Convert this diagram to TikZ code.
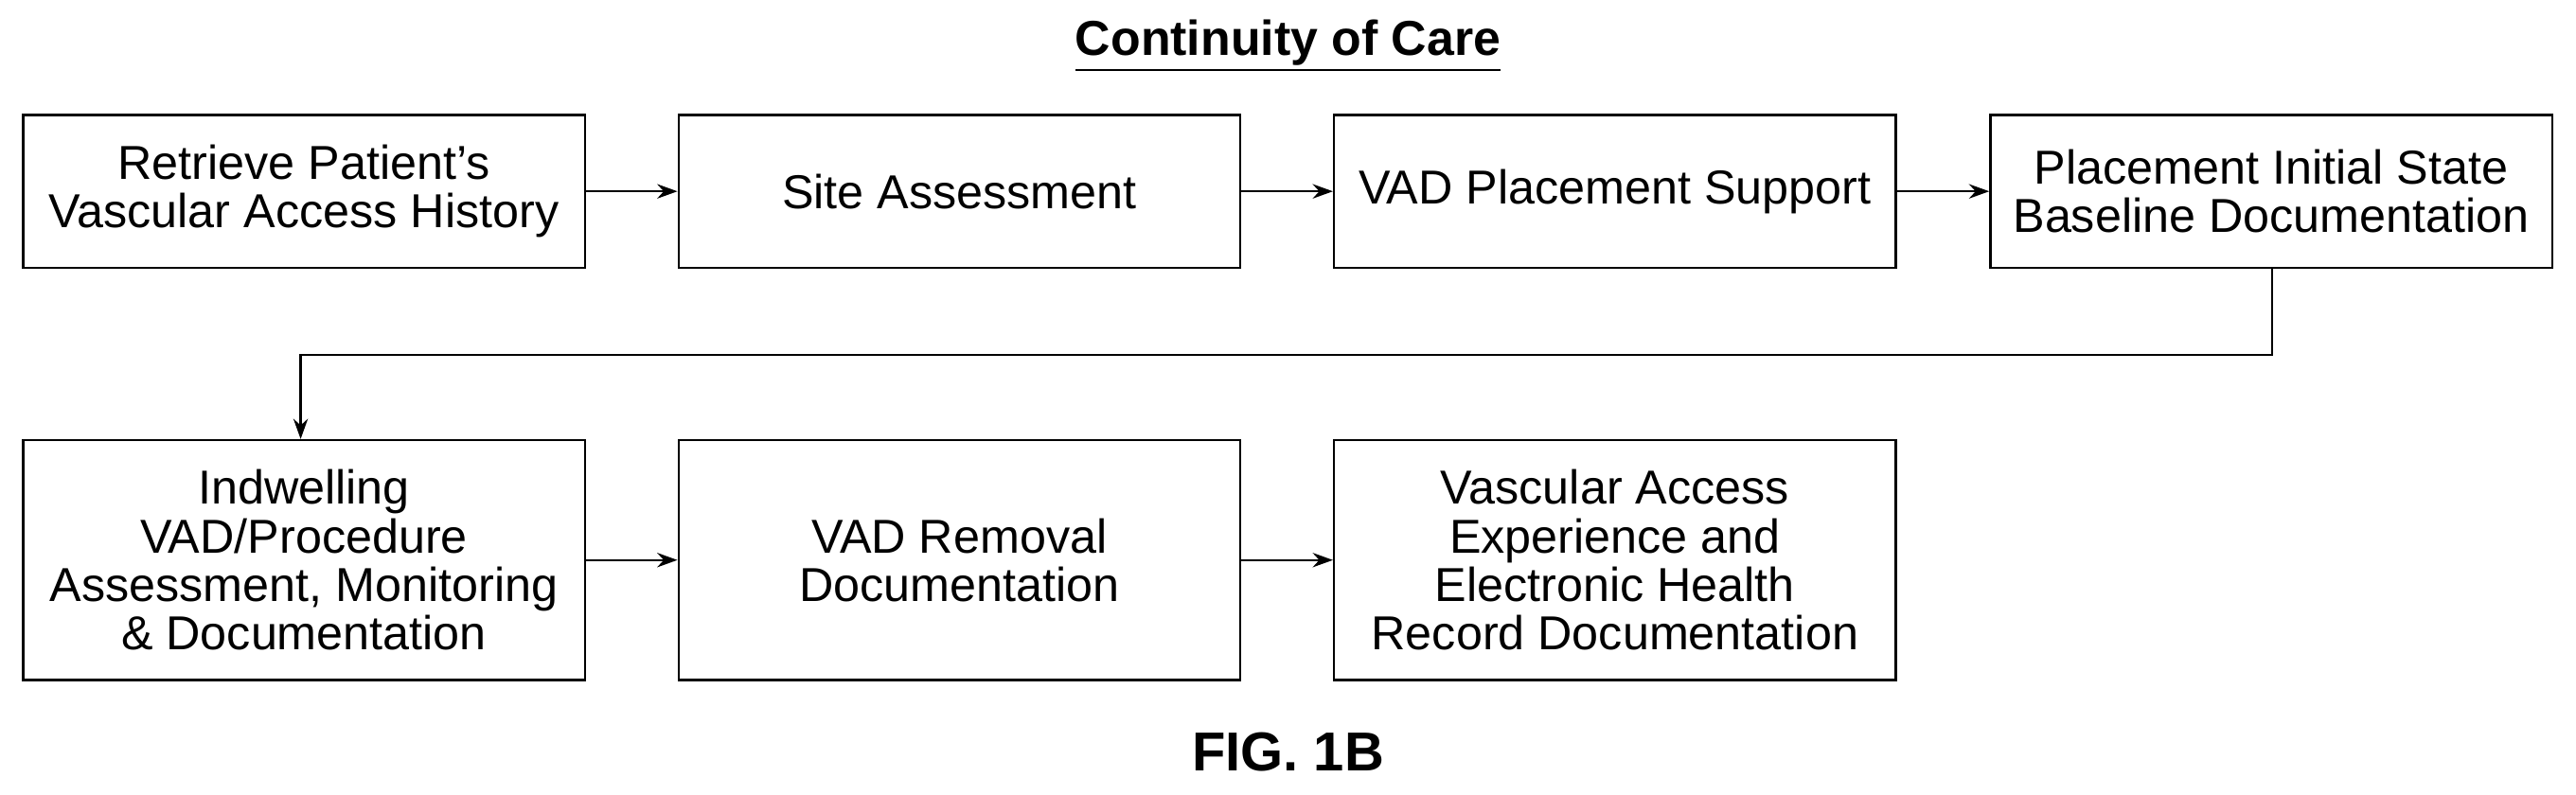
\documentclass[tikz,border=0pt]{standalone}
\usepackage{fontspec}
\setmainfont{Liberation Sans}
\usetikzlibrary{positioning,arrows.meta}
\begin{document}
\begin{tikzpicture}
		[x=0.02cm,y=-0.02cm,every node/.style={font=\fontsize{16.5}{16.8}\selectfont},
		box/.style={draw, line width=0.8pt, minimum width=6.84cm, align=center, inner sep=0pt},
		arr/.style={-{Stealth[length=7pt,width=5pt]}, line width=0.8pt}]
		\useasboundingbox (0,0) rectangle (1568,484);
		\node[font=\fontsize{17}{19}\selectfont\bfseries] (title) at (784,28) {\underline{Continuity of Care}};
		\node[box, minimum height=1.86cm] (b1) at (185,116.5) {Retrieve Patient\char"27 s\\Vascular Access History};
		\node[box, minimum height=1.86cm] (b2) at (584,116.5) {Site Assessment};
		\node[box, minimum height=1.86cm] (b3) at (983,116.5) {VAD Placement Support};
		\node[box, minimum height=1.86cm] (b4) at (1382.5,116.5) {Placement Initial State\\Baseline Documentation};
		\node[box, minimum height=2.92cm] (b5) at (185,341) {Indwelling\\VAD/Procedure\\Assessment, Monitoring\\\& Documentation};
		\node[box, minimum height=2.92cm] (b6) at (584,341) {VAD Removal\\Documentation};
		\node[box, minimum height=2.92cm] (b7) at (983,341) {Vascular Access\\Experience and\\Electronic Health\\Record Documentation};
		%\node (fig) ...
		\node[font=\fontsize{19}{21}\selectfont\bfseries] (fig) at (784,458) {FIG. 1B};
		\foreach \from/\to in {b1/b2,b2/b3,b3/b4,b5/b6,b6/b7}
		\draw[arr] (\from) -- (\to);
		\coordinate (c1) at (1383,216);
		\coordinate (c2) at (183,216);
		\draw[arr] (b4.south -| c1) -- (c1) -- (c2) -- (b5.north -| c2);
	\end{tikzpicture}
\end{document}
